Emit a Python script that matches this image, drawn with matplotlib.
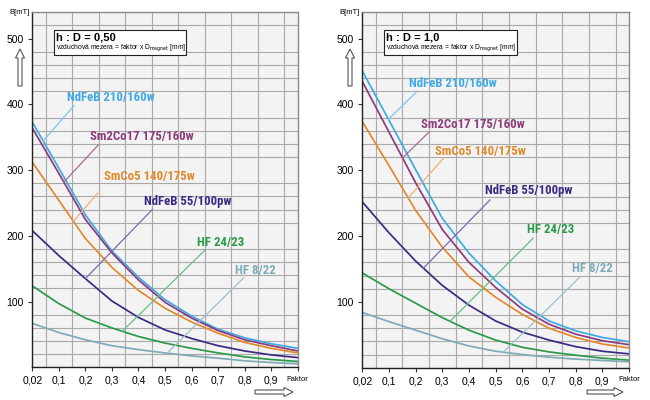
import matplotlib
matplotlib.use("Agg")
import matplotlib.pyplot as plt
import numpy as np
from matplotlib.patches import Polygon, Rectangle

# grid positions along the Faktor axis (first position is labelled 0,02)
faktor = [0.0, 0.1, 0.2, 0.3, 0.4, 0.5, 0.6, 0.7, 0.8, 0.9, 1.0]
faktor_labels = ["0,02", "0,1", "0,2", "0,3", "0,4", "0,5", "0,6", "0,7", "0,8", "0,9"]

materials = ["NdFeB 210/160w", "Sm2Co17 175/160w", "SmCo5 140/175w",
             "NdFeB 55/100pw", "HF 24/23", "HF 8/22"]
line_colors = ["#3fa9e6", "#8e3b7c", "#e08a2c", "#3b2a82", "#2b9a4a", "#7faab9"]
leader_colors = ["#7cc4ee", "#a56b98", "#eab27a", "#7a6cae", "#6cbc82", "#9fbfcb"]

# h : D = 0,50  -> B [mT]
b_050_ndfeb210 = [373, 303, 232, 177, 137, 103, 78, 58, 45, 36, 29]
b_050_sm2co17 = [364, 295, 225, 174, 133, 99, 75, 56, 42, 33, 25]
b_050_smco5 = [312, 254, 196, 152, 117, 90, 69, 52, 38, 29, 22]
b_050_ndfeb55 = [208, 170, 135, 101, 76, 57, 44, 33, 25, 19, 15]
b_050_hf24 = [124, 97, 75, 60, 47, 37, 29, 22, 16, 12, 9]
b_050_hf8 = [67, 53, 42, 33, 27, 22, 17.5, 14, 10, 7.5, 5.5]

# h : D = 1,0  -> B [mT]
b_100_ndfeb210 = [451, 376, 301, 227, 174, 132, 96, 71, 56, 46, 39.5]
b_100_sm2co17 = [435, 358, 281, 210, 160, 122, 89, 66, 51, 41, 35]
b_100_smco5 = [374, 307, 239, 183, 138, 107, 81, 60, 46, 36, 30]
b_100_ndfeb55 = [252, 205, 162, 125, 95, 71, 54, 42, 32, 25, 21]
b_100_hf24 = [144, 120, 98, 76, 57, 42, 31, 24, 19, 14.5, 11.5]
b_100_hf8 = [84, 70, 57, 44, 33, 25, 20, 16, 13, 11, 9]

# label text position, leader start, leader end (x on curve)
labels_050 = [((0.129, 410), (0.157, 398), 0.041),
              ((0.219, 351), (0.248, 338), 0.119),
              ((0.272, 291), (0.246, 265), 0.155),
              ((0.419, 252), (0.452, 240), 0.200),
              ((0.622, 190), (0.652, 179), 0.339),
              ((0.765, 147), (0.796, 136), 0.508)]
labels_100 = [((0.175, 432), (0.201, 418), 0.098),
              ((0.219, 370), (0.250, 358), 0.151),
              ((0.273, 329), (0.304, 318), 0.172),
              ((0.460, 269), (0.479, 255), 0.229),
              ((0.616, 210), (0.641, 197), 0.329),
              ((0.785, 150), (0.814, 137), 0.529)]

W, H = 650, 400
NARROW = ["Liberation Sans Narrow", "Roboto Condensed", "DejaVu Sans"]
TICKF = ["Liberation Sans", "DejaVu Sans"]


def outline_arrow(fig, x0, y0, x1, y1, shaft=4.0, head=9.0, head_len=9.0):
    """Hollow block arrow given in pixel coordinates (y from top)."""
    p0 = np.array([x0, y0], float)
    p1 = np.array([x1, y1], float)
    d = (p1 - p0) / np.linalg.norm(p1 - p0)
    n = np.array([-d[1], d[0]])
    b = p1 - d * head_len
    pts = [p0 + n * shaft / 2, b + n * shaft / 2, b + n * head / 2, p1,
           b - n * head / 2, b - n * shaft / 2, p0 - n * shaft / 2]
    pts = [(p[0] / W, 1 - p[1] / H) for p in pts]
    fig.add_artist(Polygon(pts, closed=True, facecolor="white",
                           edgecolor="#555555", lw=0.8, transform=fig.transFigure))


def draw_panel(ax, series, labels, ratio):
    ax.set_facecolor("#f3f3f3")
    ax.set_xlim(0, 1.0)
    ax.set_ylim(0, 540)
    ax.set_xticks(np.arange(0, 1.0001, 0.05), minor=True)
    ax.set_yticks(np.arange(0, 541, 20), minor=True)
    ax.grid(which="minor", color="#a9a9a9", lw=0.8)
    ax.set_axisbelow(True)
    ax.set_xticks(faktor)
    ax.set_xticklabels(faktor_labels + ["Faktor"], family=TICKF, fontsize=7.5)
    ax.get_xticklabels()[-1].set_fontsize(5.5)
    ax.set_yticks([100, 200, 300, 400, 500])
    ax.set_yticklabels(["100", "200", "300", "400", "500"], family=TICKF, fontsize=7.5)
    ax.tick_params(which="minor", length=0)
    ax.tick_params(which="major", length=3, width=0.8, color="#333333", pad=3)
    for s in ["left", "bottom"]:
        ax.spines[s].set_color("#222222")
        ax.spines[s].set_linewidth(1.0)
    for s in ["top", "right"]:
        ax.spines[s].set_color("#8a8a8a")
        ax.spines[s].set_linewidth(1.0)

    for vals, col in zip(series, line_colors):
        ax.plot(faktor, vals, color=col, lw=1.25, solid_joinstyle="round")

    for name, vals, col, lcol, ((tx, ty), (lx, ly), cx) in zip(
            materials, series, line_colors, leader_colors, labels):
        cy = np.interp(cx, faktor, vals)
        ax.plot([lx, cx], [ly, cy], color=lcol, lw=0.9)
        ax.text(tx, ty, name, color=col, family=NARROW, fontweight="bold",
                fontstretch="condensed", fontsize=9.2, ha="left", va="center")

    ax.add_patch(Rectangle((0.08, 0.879), 0.50, 0.07, transform=ax.transAxes,
                           facecolor="white", edgecolor="#222222", lw=0.8, zorder=5))
    ax.text(0.09, 0.929, f"h : D = {ratio}", transform=ax.transAxes, family=TICKF,
            fontweight="bold", fontsize=8, va="center", zorder=6)
    ax.text(0.09, 0.898, r"vzduchová mezera = faktor x D$_{\rm magnet}$ [mm]",
            transform=ax.transAxes, family=TICKF, fontsize=4.9, va="center", zorder=6)
    ax.text(-0.01, 1.0, "B[mT]", transform=ax.transAxes, family=TICKF, fontsize=5.5,
            ha="right", va="center")


fig = plt.figure(figsize=(6.5, 4), dpi=100)
fig.patch.set_facecolor("white")
ax1 = fig.add_axes([32.3 / W, 1 - 367.4 / H, 265.4 / W, 355.1 / H])
ax2 = fig.add_axes([362.3 / W, 1 - 367.7 / H, 266.7 / W, 355.4 / H])

draw_panel(ax1, [b_050_ndfeb210, b_050_sm2co17, b_050_smco5,
                 b_050_ndfeb55, b_050_hf24, b_050_hf8], labels_050, "0,50")
draw_panel(ax2, [b_100_ndfeb210, b_100_sm2co17, b_100_smco5,
                 b_100_ndfeb55, b_100_hf24, b_100_hf8], labels_100, "1,0")

outline_arrow(fig, 20, 86, 20, 49)
outline_arrow(fig, 350, 86, 350, 49)
outline_arrow(fig, 255, 392, 293, 392)
outline_arrow(fig, 587, 392, 623, 392)

fig.savefig("out.png", dpi=100)
